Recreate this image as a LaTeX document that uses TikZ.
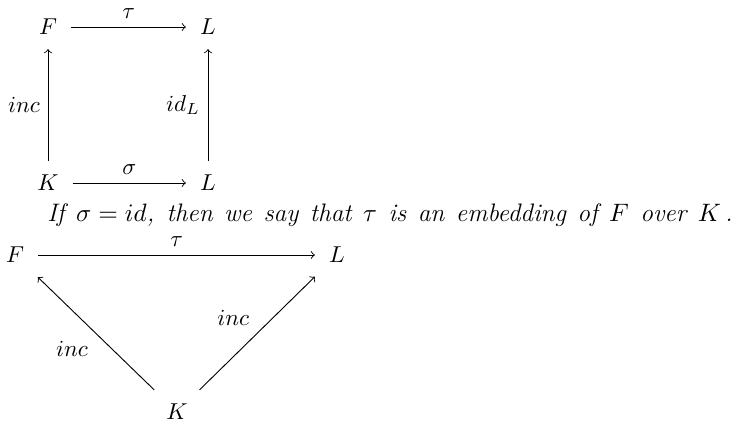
\documentclass[tikz,border=0pt]{standalone}
\usepackage{amsmath}
\usepackage{amssymb}
\usepackage{tikz}
\usetikzlibrary{
  quotes,
  positioning
}

\begin{document}
\begin{tikzpicture}
  [x=0.4348pt, y=-0.4348pt,
   obj/.style = {inner sep=6pt},
   remark/.style = {anchor=base west, inner sep=0pt, font=\fontsize{11}{13}\selectfont\itshape},
   every edge/.style = {draw, ->},
   every edge quotes/.style = {auto, text=black, inner sep=0.333em}]
  \useasboundingbox (0,0) rectangle (737,426);
  % square
  \node (sqF) [obj] at (48,27)  {$F$};
  \node (sqL) [obj] at (208,27) {$L$};
  \node (sqK) [obj] at (48,183) {$K$};
  \node (sqM) [obj] at (208,183) {$L$};
  \draw (sqF) edge["$\tau$"] (sqL)
    (sqK) edge["$\sigma$"] (sqM)
    (sqK) edge["$inc$"] (sqF)
    (sqM) edge["$id_L$"] (sqL);
  % remark
  \node (txt) [remark] at (47,222)
    {\makebox[298pt][s]{If \mbox{$\sigma = id$}, then we say that $\tau$ is an embedding of $F$ over $K$\,.}};
  % triangle
  \node (trF) [obj] at (15,255)  {$F$};
  \node (trL) [obj] at (337,255) {$L$};
  \node (trK) [obj] at (177,412) {$K$};
  \draw (trF) edge["$\tau$"] (trL)
    (trK) edge["$inc$"] (trF)
    (trK) edge["$inc$"] (trL);
\end{tikzpicture}
\end{document}
